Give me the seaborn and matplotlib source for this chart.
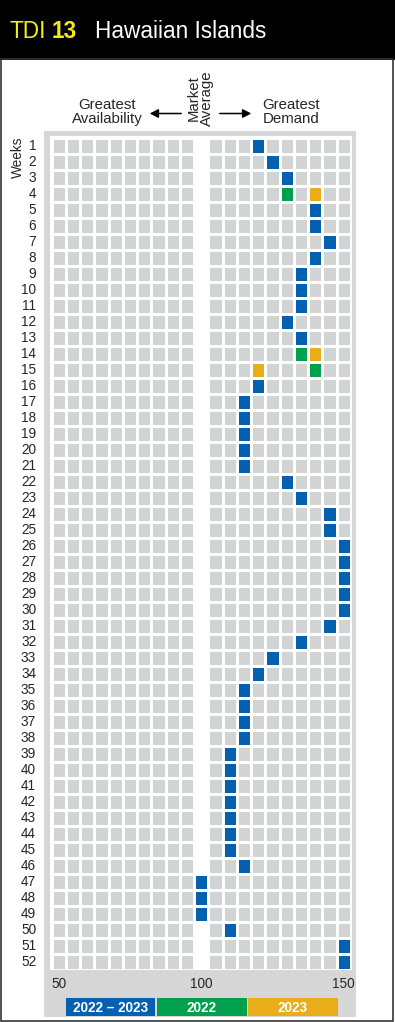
import numpy as np
import pandas as pd
import seaborn as sns
import matplotlib
matplotlib.use("Agg")
import matplotlib.pyplot as plt
from matplotlib.colors import ListedColormap
from matplotlib.patches import Rectangle, FancyArrowPatch

# ---------------- data ----------------
weeks = list(range(1, 53))
levels = list(range(50, 155, 5))          # 50 ... 150, 100 = market average
tick_labels = {50: "50", 100: "100", 150: "150"}

# index value per week (None = no mark for that series)
blue_2022_2023 = [120, 125, 130, None, 140, 140, 145, 140, 135, 135,
                  135, 130, 135, None, None, 120, 115, 115, 115, 115,
                  115, 130, 135, 145, 145, 150, 150, 150, 150, 150,
                  145, 135, 125, 120, 115, 115, 115, 115, 110, 110,
                  110, 110, 110, 110, 110, 115, 100, 100, 100, 110,
                  150, 150]
green_2022 = {4: 130, 14: 135, 15: 140}
orange_2023 = {4: 140, 14: 140, 15: 120}

series_names = ["2022 – 2023", "2022", "2023"]

# ---------------- styling ----------------
GREY_CELL = "#d2d3d5"
BLUE = "#0561b0"
GREEN = "#00a04c"
ORANGE = "#e9ad1c"
PANEL = "#d6d6d6"

W, H = 395, 1022
sns.set_style("white")
plt.rcParams["font.family"] = ["Liberation Sans", "DejaVu Sans"]

fig = plt.figure(figsize=(W / 100, H / 100), dpi=100)
fig.patch.set_facecolor("white")


def fx(x):
    return x / W


def fy(y):
    return 1 - y / H


# build matrix: 0 grey, 1 blue, 2 green, 3 orange
mat = np.zeros((len(weeks), len(levels)))
for i, v in enumerate(blue_2022_2023):
    if v is not None:
        mat[i, levels.index(v)] = 1
for w, v in green_2022.items():
    mat[w - 1, levels.index(v)] = 2
for w, v in orange_2023.items():
    mat[w - 1, levels.index(v)] = 3
df = pd.DataFrame(mat, index=weeks, columns=levels)
mask = np.zeros_like(mat, dtype=bool)
gap = levels.index(100)
mask[:, gap] = mat[:, gap] == 0

# header + frame
fig.add_artist(Rectangle((0, fy(60)), 1, 60 / H, transform=fig.transFigure,
                         facecolor="black", edgecolor="none", zorder=-5))
fig.add_artist(Rectangle((fx(0.8), fy(1020.5)), fx(392.6), (1020.5 - 59) / H,
                         transform=fig.transFigure, facecolor="none",
                         edgecolor="#333333", linewidth=1.2, zorder=5))
# grey panel + white inner
fig.add_artist(Rectangle((fx(44), fy(1017)), fx(312), (1017 - 131) / H,
                         transform=fig.transFigure, facecolor=PANEL,
                         edgecolor="none", zorder=-4))
fig.add_artist(Rectangle((fx(49.5), fy(969.5)), fx(302.5), (969.5 - 136) / H,
                         transform=fig.transFigure, facecolor="white",
                         edgecolor="none", zorder=-3))

# heatmap axes
left, top = 51.5, 137.8
pw, ph = 14.25, 16.0
ax = fig.add_axes([fx(left), fy(top + ph * 52), len(levels) * pw / W, 52 * ph / H])
ax.set_facecolor("none")
cmap = ListedColormap([GREY_CELL, BLUE, GREEN, ORANGE])
sns.heatmap(df, ax=ax, mask=mask, cmap=cmap, vmin=-0.5, vmax=3.5, cbar=False,
            linewidths=1.8, linecolor="white",
            xticklabels=[tick_labels.get(l, "") for l in levels],
            yticklabels=weeks)
ax.set_xlabel("")
ax.set_ylabel("")
xt = [i + 0.5 for i, l in enumerate(levels) if l in tick_labels]
ax.set_xticks(xt)
ax.set_xticklabels([tick_labels[levels[int(t)]] for t in xt], fontsize=9.8)
ax.tick_params(axis="x", length=0, pad=5.5, rotation=0)
ax.tick_params(axis="y", length=0, pad=11, rotation=0, labelsize=9.8)
for lab in ax.get_yticklabels():
    lab.set_horizontalalignment("right")
for s in ax.spines.values():
    s.set_visible(False)

# Weeks label
fig.text(fx(18), fy(157), "Weeks", rotation=90, ha="center", va="center",
         fontsize=9.8)

# title
fig.text(fx(9.5), fy(38.5), "TDI", color="#f4ec1a", fontsize=16.3, va="baseline")
fig.text(fx(51.5), fy(38.5), "13", color="#f4ec1a", fontsize=16.3, fontweight="bold",
         va="baseline")
fig.text(fx(95), fy(38.5), "Hawaiian Islands", color="white", fontsize=16.3,
         va="baseline")

# header annotations
fig.text(fx(107), fy(112), "Greatest\nAvailability", ha="center", va="center",
         fontsize=10.8, linespacing=0.95)
fig.text(fx(291), fy(112), "Greatest\nDemand", ha="center", va="center",
         fontsize=10.8, linespacing=0.95)
fig.text(fx(200.5), fy(98), "Market\nAverage", ha="center", va="center",
         rotation=90, fontsize=10.8, linespacing=0.95)
for x0, x1 in [(184, 147), (217, 254)]:
    fig.add_artist(FancyArrowPatch((fx(x0), fy(113.5)), (fx(x1), fy(113.5)),
                                   transform=fig.transFigure,
                                   arrowstyle="-|>,head_length=5,head_width=2.6",
                                   color="black", linewidth=1.1))

# legend
legend_boxes = [(65.5, 155), (157, 246.5), (248, 338)]
for (x0, x1), name, col in zip(legend_boxes, series_names, [BLUE, GREEN, ORANGE]):
    fig.add_artist(Rectangle((fx(x0), fy(1016)), fx(x1 - x0), 18 / H,
                             transform=fig.transFigure, facecolor=col,
                             edgecolor="none"))
    fig.text(fx((x0 + x1) / 2), fy(1007.5), name, ha="center", va="center",
             color="white", fontsize=9.8, fontweight="bold")

fig.savefig("out.png", dpi=100)
